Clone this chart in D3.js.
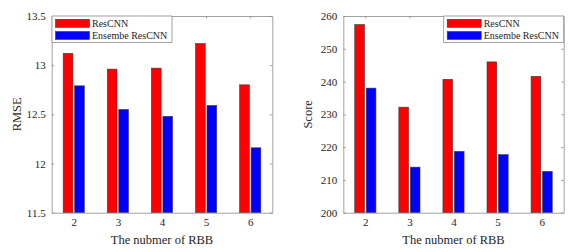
<!DOCTYPE html>
<html>
<head>
<meta charset="utf-8">
<script src="https://cdn.jsdelivr.net/npm/d3@7"></script>
<style>
  body { margin: 0; background: #fff; }
</style>
</head>
<body>
<svg class="entry-point" width="587" height="252"></svg>
<script>
/* data */
const rbb = [2, 3, 4, 5, 6]
const seriesNames = ['ResCNN', 'Ensembe ResCNN']
const seriesColors = ['#ff0000', '#0000ff']
const rmseResCNN = [13.12, 12.96, 12.97, 13.22, 12.80]
const rmseEnsemble = [12.79, 12.55, 12.48, 12.59, 12.16]
const scoreResCNN = [257.4, 232.2, 240.7, 246.0, 241.6]
const scoreEnsemble = [238.0, 213.9, 218.7, 217.7, 212.6]
const rmseTicks = [11.5, 12, 12.5, 13, 13.5]
const scoreTicks = [200, 210, 220, 230, 240, 250, 260]

const FONT = '"Liberation Serif", "Times New Roman", serif'
const svg = d3.select('.entry-point')
  .attr('font-family', FONT)

/* draw one panel */
function drawPanel (opts) {
  const { left, right, top, bottom, yDomain, yTicks, yFormat, yLabel, a, b, legendX } = opts
  const g = svg.append('g')
  const x = d3.scaleLinear().domain([1.5, 6.5]).range([left, right])
  const y = d3.scaleLinear().domain(yDomain).range([bottom, top])

  // bars
  const bw = 0.22, gap = 0.02
  const rows = rbb.map((v, i) => [
    { s: 0, x0: v - gap - bw, val: a[i] },
    { s: 1, x0: v + gap, val: b[i] }
  ]).flat()
  g.selectAll('rect.bar')
    .data(rows).enter().append('rect')
    .attr('class', 'bar')
    .attr('x', d => x(d.x0))
    .attr('width', d => x(d.x0 + bw) - x(d.x0))
    .attr('y', d => y(d.val))
    .attr('height', d => y(yDomain[0]) - y(d.val))
    .attr('fill', d => seriesColors[d.s])
    .attr('stroke', '#3a3a3a')
    .attr('stroke-width', 0.6)

  // axes (ticks inward, box on)
  const axes = [
    [d3.axisLeft(y).tickValues(yTicks).tickFormat(yFormat), `translate(${left},0)`],
    [d3.axisRight(y).tickValues(yTicks).tickFormat(''), `translate(${right},0)`],
    [d3.axisBottom(x).tickValues(rbb).tickFormat(d3.format('d')), `translate(0,${bottom})`],
    [d3.axisTop(x).tickValues(rbb).tickFormat(''), `translate(0,${top})`]
  ]
  axes.forEach(([ax, tr]) => {
    const sel = g.append('g').attr('transform', tr)
      .call(ax.tickSizeInner(-2.5).tickSizeOuter(0).tickPadding(6))
      .attr('font-family', FONT)
      .attr('font-size', 11)
    sel.select('.domain').attr('stroke', '#8a8a8a').attr('stroke-width', 0.8)
    sel.selectAll('.tick line').attr('stroke', '#8a8a8a').attr('stroke-width', 0.8)
    sel.selectAll('.tick text').attr('fill', '#262626')
  })

  // axis labels
  g.append('text')
    .attr('x', (left + right) / 2).attr('y', 244)
    .attr('text-anchor', 'middle')
    .attr('font-size', 12.5)
    .attr('fill', '#262626')
    .text('The nubmer of RBB')
  g.append('text')
    .attr('transform', `translate(${left - 31},${(top + bottom) / 2}) rotate(-90)`)
    .attr('text-anchor', 'middle')
    .attr('font-size', 12.5)
    .attr('fill', '#262626')
    .text(yLabel)

  // legend
  const lg = g.append('g').attr('transform', `translate(${legendX},${top})`)
  lg.append('rect')
    .attr('width', 120).attr('height', 26.5)
    .attr('fill', '#fff').attr('stroke', '#8a8a8a').attr('stroke-width', 0.8)
  seriesNames.forEach((name, i) => {
    lg.append('rect')
      .attr('x', 3.5).attr('y', 3.3 + i * 12.2)
      .attr('width', 34).attr('height', 8)
      .attr('fill', seriesColors[i])
      .attr('stroke', '#3a3a3a').attr('stroke-width', 0.6)
    lg.append('text')
      .attr('x', 40).attr('y', 11 + i * 12.2)
      .attr('font-size', 10)
      .attr('fill', '#262626')
      .text(name)
  })
}

drawPanel({
  left: 51.7, right: 272.3, top: 16, bottom: 212.7,
  yDomain: [11.5, 13.5], yTicks: rmseTicks, yFormat: d3.format('~g'),
  yLabel: 'RMSE', a: rmseResCNN, b: rmseEnsemble, legendX: 52
})
drawPanel({
  left: 343.3, right: 563.7, top: 16, bottom: 212.7,
  yDomain: [200, 260], yTicks: scoreTicks, yFormat: d3.format('d'),
  yLabel: 'Score', a: scoreResCNN, b: scoreEnsemble, legendX: 443.7
})
</script>
</body>
</html>
